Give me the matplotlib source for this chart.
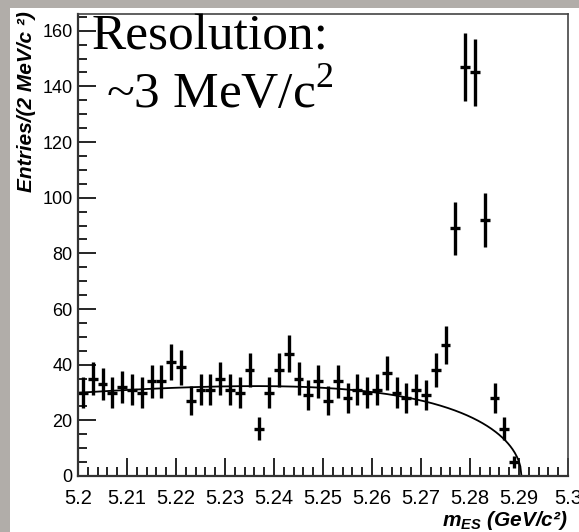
import numpy as np
import matplotlib
matplotlib.use('Agg')
import matplotlib.pyplot as plt
from matplotlib.ticker import MultipleLocator
from matplotlib.patches import Rectangle

plt.rcParams['font.family'] = 'Liberation Sans'
plt.rcParams['mathtext.fontset'] = 'custom'
plt.rcParams['mathtext.rm'] = 'Liberation Serif'
plt.rcParams['mathtext.it'] = 'Liberation Sans:bold:italic'

# histogram: 2 MeV bins from 5.20 to 5.30 GeV
bin_lo = 5.2
bin_width = 0.002
counts = [30, 35, 33, 30, 32, 31, 30, 34, 34, 41,
          39, 27, 31, 31, 35, 31, 30, 38, 17, 30,
          38, 44, 35, 29, 34, 27, 34, 28, 31, 30,
          31, 37, 30, 28, 31, 29, 38, 47, 89, 147,
          145, 92, 28, 17, 5, 0, 0, 0, 0, 0]

# ARGUS background fit
argus_m0 = 5.2905
argus_c = -24.0
argus_peak = 32.3

counts = np.array(counts, dtype=float)
centers = bin_lo + bin_width * (np.arange(len(counts)) + 0.5)
filled = counts > 0

def argus(m):
    u = 1 - (m / argus_m0) ** 2
    u = np.clip(u, 0, None)
    return m * np.sqrt(u) * np.exp(argus_c * u)

m_peak = argus_m0 * np.sqrt(1 + 1 / (2 * argus_c))
norm = argus_peak / argus(m_peak)
m_fit = np.linspace(bin_lo, argus_m0, 400)

W, H = 579, 532
fig = plt.figure(figsize=(W / 100, H / 100), dpi=100, facecolor='#b1ada9')
fig.patches.append(Rectangle((10 / W, 0), 1 - 10 / W, 1 - 8 / H,
                             transform=fig.transFigure, facecolor='white',
                             edgecolor='none', zorder=-5))

ax = fig.add_axes([78 / W, (H - 476) / H, 490 / W, 462 / H])
ax.set_facecolor('white')
ax.set_zorder(2)

ax.errorbar(centers[filled], counts[filled], yerr=np.sqrt(counts[filled]),
            xerr=bin_width / 2, fmt='none', ecolor='black', elinewidth=2.4,
            capsize=0)
ax.plot(m_fit, norm * argus(m_fit), color='black', lw=1.3)

ax.set_xlim(5.2, 5.3)
ax.set_ylim(0, 166)
ax.xaxis.set_minor_locator(MultipleLocator(0.002))
ax.yaxis.set_major_locator(MultipleLocator(20))
ax.yaxis.set_minor_locator(MultipleLocator(5))
ax.set_xticks(np.arange(5.2, 5.301, 0.01))
ax.set_xticklabels(['5.2', '5.21', '5.22', '5.23', '5.24', '5.25', '5.26',
                    '5.27', '5.28', '5.29', '5.3'])
ax.tick_params(which='both', direction='in', top=False, right=False)
ax.tick_params(which='major', length=13, width=1.2)
ax.tick_params(which='minor', length=6.5, width=1.2)
ax.tick_params(axis='x', which='major', pad=9, labelsize=14.5)
ax.tick_params(axis='y', which='major', pad=4, labelsize=13)
for side in ['left', 'bottom']:
    ax.spines[side].set_linewidth(1.6)
    ax.spines[side].set_color('#333333')
for side in ['top', 'right']:
    ax.spines[side].set_linewidth(1.2)
    ax.spines[side].set_color('#444444')

fig.text(27 / W, 1 - 11 / H, 'Entries/(2 MeV/c ²)', rotation=90,
         ha='center', va='top', fontsize=15, fontweight='bold', style='italic')
fig.text(568 / W, 1 - 521 / H, '$m_{ES}$ (GeV/c²)', ha='right', va='center',
         fontsize=15, fontweight='bold', style='italic')

fig.text(92 / W, 1 - 50 / H, 'Resolution:', family='Liberation Serif',
         fontsize=37, ha='left', va='baseline', zorder=5)
fig.text(106 / W, 1 - 108 / H, '~3 MeV/c$^2$', family='Liberation Serif',
         fontsize=37, ha='left', va='baseline', zorder=5)

fig.savefig('out.png', dpi=100, facecolor=fig.get_facecolor())
